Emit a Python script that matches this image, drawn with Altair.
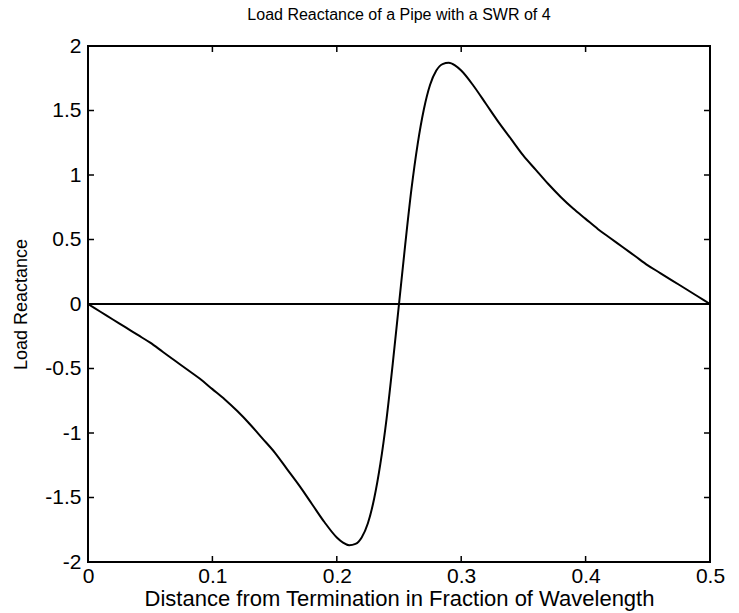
import altair as alt
import pandas as pd

# Distance from termination (fraction of wavelength) and load reactance
dist = [0.00, 0.01, 0.02, 0.03, 0.04, 0.05, 0.06, 0.07, 0.08, 0.09,
        0.10, 0.11, 0.12, 0.13, 0.14, 0.15, 0.16, 0.17, 0.18, 0.19,
        0.20, 0.205, 0.21, 0.215, 0.22, 0.225, 0.23, 0.235, 0.24, 0.245,
        0.25, 0.255, 0.26, 0.265, 0.27, 0.275, 0.28, 0.285, 0.29, 0.295,
        0.30, 0.31, 0.32, 0.33, 0.34, 0.35, 0.36, 0.37, 0.38, 0.39,
        0.40, 0.41, 0.42, 0.43, 0.44, 0.45, 0.46, 0.47, 0.48, 0.49, 0.50]
react = [0.00, -0.06, -0.12, -0.18, -0.24, -0.30, -0.37, -0.44, -0.51, -0.58,
         -0.66, -0.74, -0.83, -0.93, -1.04, -1.15, -1.28, -1.41, -1.55, -1.69,
         -1.81, -1.85, -1.87, -1.86, -1.81, -1.70, -1.51, -1.24, -0.89, -0.46,
         0.00, 0.46, 0.89, 1.24, 1.51, 1.70, 1.81, 1.86, 1.87, 1.85,
         1.81, 1.69, 1.55, 1.41, 1.28, 1.15, 1.04, 0.93, 0.83, 0.74,
         0.66, 0.58, 0.51, 0.44, 0.37, 0.30, 0.24, 0.18, 0.12, 0.06, 0.00]

x_ticks = [0, 0.1, 0.2, 0.3, 0.4, 0.5]
y_ticks = [-2, -1.5, -1, -0.5, 0, 0.5, 1, 1.5, 2]
zero_level = [0]

TITLE = "Load Reactance of a Pipe with a SWR of 4"
X_TITLE = "Distance from Termination in Fraction of Wavelength"
Y_TITLE = "Load Reactance"

FONT = "Liberation Sans"
W, H = 622, 516
TL = 6  # inward tick length

df = pd.DataFrame({"d": dist, "r": react})
xt = pd.DataFrame({"t": x_ticks})
yt = pd.DataFrame({"t": y_ticks})
zl = pd.DataFrame({"z": zero_level})

xscale = alt.Scale(domain=[0, 0.5], nice=False, zero=False)
yscale = alt.Scale(domain=[-2, 2], nice=False, zero=False)

axis_common = dict(
    labelExpr="'' + datum.value", ticks=False, tickSize=0, domain=False, grid=False,
    labelFont=FONT, labelFontSize=21, labelColor="black", labelFlush=False,
    titleFont=FONT, titleColor="black", titleFontWeight="normal",
)
x_axis = alt.Axis(values=x_ticks, title=X_TITLE, labelPadding=3, titlePadding=2,
                  titleFontSize=22, **axis_common)
y_axis = alt.Axis(values=y_ticks, title=Y_TITLE, labelPadding=7, titlePadding=14,
                  titleFontSize=18, **axis_common)

line = alt.Chart(df).mark_line(color="black", strokeWidth=2, interpolate="monotone").encode(
    x=alt.X("d:Q", scale=xscale, axis=x_axis),
    y=alt.Y("r:Q", scale=yscale, axis=y_axis),
)

zero = alt.Chart(zl).mark_rule(color="black", strokeWidth=2.2).encode(
    y=alt.Y("z:Q", scale=yscale, axis=y_axis)
)

tick_style = dict(color="black", strokeWidth=1.5)
xb = alt.Chart(xt).mark_rule(**tick_style).encode(
    x=alt.X("t:Q", scale=xscale, axis=x_axis), y=alt.value(H), y2=alt.value(H - TL))
xtop = alt.Chart(xt).mark_rule(**tick_style).encode(
    x=alt.X("t:Q", scale=xscale, axis=x_axis), y=alt.value(0), y2=alt.value(TL))
yl = alt.Chart(yt).mark_rule(**tick_style).encode(
    y=alt.Y("t:Q", scale=yscale, axis=y_axis), x=alt.value(0), x2=alt.value(TL))
yr = alt.Chart(yt).mark_rule(**tick_style).encode(
    y=alt.Y("t:Q", scale=yscale, axis=y_axis), x=alt.value(W), x2=alt.value(W - TL))

chart = alt.layer(zero, line, xb, xtop, yl, yr).properties(
    width=W, height=H,
    background="white",
    title=alt.TitleParams(TITLE, font=FONT, fontSize=16, fontWeight="normal", color="black",
                          anchor="middle", offset=12),
    autosize=alt.AutoSizeParams(type="none"),
    padding={"left": 88, "top": 46, "right": 29, "bottom": 51},
).configure_view(stroke="black", strokeWidth=2)

chart.save("out.html", embed_options={"renderer": "svg", "actions": False})
